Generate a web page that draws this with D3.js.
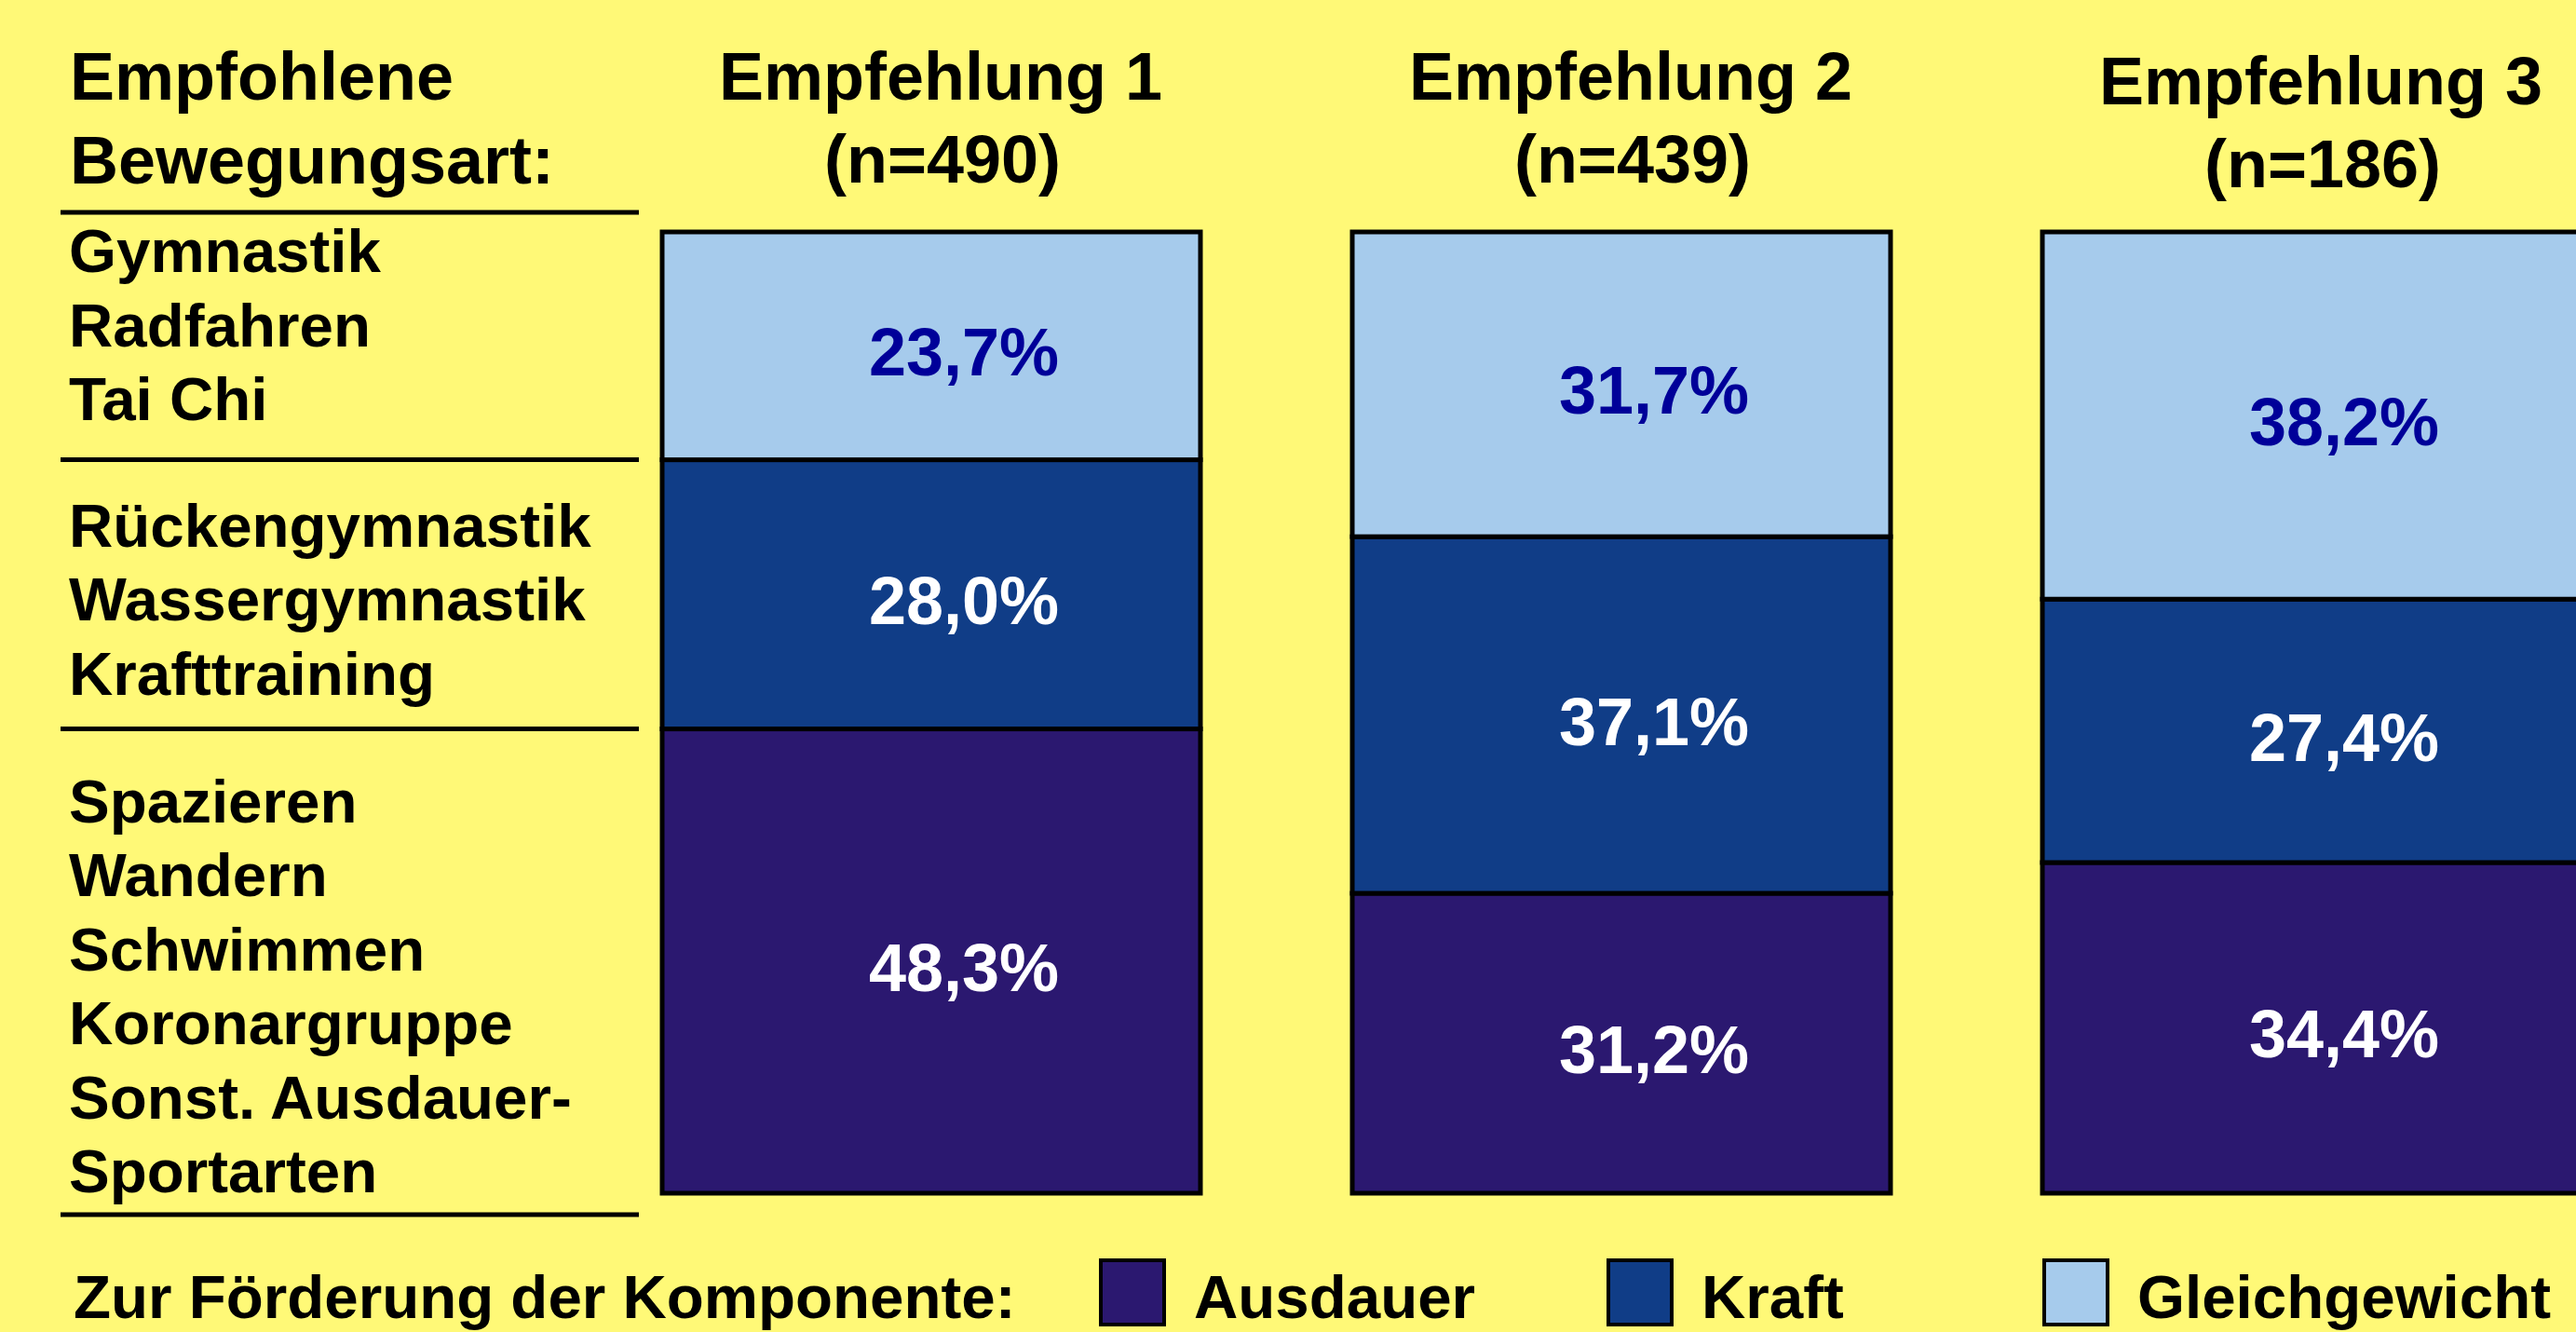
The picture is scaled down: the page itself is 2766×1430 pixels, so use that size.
<!DOCTYPE html>
<html lang="de">
<head>
<meta charset="utf-8">
<title>Empfohlene Bewegungsart</title>
<script src="https://d3js.org/d3.v7.min.js"></script>
<style>
  html, body { margin: 0; padding: 0; background: #fff977; }
  svg { display: block; }
  text { font-family: "Liberation Sans", Arial, Helvetica, sans-serif; font-weight: bold; }
</style>
</head>
<body>
<script>
// --- data ---
var groups = ["Empfehlung 1", "Empfehlung 2", "Empfehlung 3"];
var sampleSizes = [490, 439, 186];
var components = ["Ausdauer", "Kraft", "Gleichgewicht"];
var ausdauer = [48.3, 31.2, 34.4];
var kraft = [28.0, 37.1, 27.4];
var gleichgewicht = [23.7, 31.7, 38.2];

// activities listed on the left, top to bottom (Gleichgewicht, Kraft, Ausdauer)
var activities = [
  ["Gymnastik", "Radfahren", "Tai Chi"],
  ["Rückengymnastik", "Wassergymnastik", "Krafttraining"],
  ["Spazieren", "Wandern", "Schwimmen", "Koronargruppe", "Sonst. Ausdauer-", "Sportarten"]
];
var leftTitle = ["Empfohlene", "Bewegungsart:"];
var legendTitle = "Zur Förderung der Komponente:";

// --- layout ---
var w = 2766, h = 1430;
var colors = { Ausdauer: "#2b1870", Kraft: "#103d87", Gleichgewicht: "#a6cbec" };
var labelColors = { Ausdauer: "#ffffff", Kraft: "#ffffff", Gleichgewicht: "#000099" };
var bigFont = 72, smallFont = 65.5, lineH = 79.5;
var groupPad = [64, 93, 100];       // first baseline below each rule
var legendX = [1180, 1725, 2193];   // swatch left edges

var svg = d3.select("body").append("svg")
  .attr("width", w).attr("height", h);

svg.append("rect").attr("width", w).attr("height", h).attr("fill", "#fff977");

var xScale = d3.scaleBand().domain(groups).range([711, 2771]).paddingInner(0.22).paddingOuter(0);
var yScale = d3.scaleLinear().domain([0, 100]).range([1281, 249]);

var rows = groups.map(function(g, i) {
  return { group: g, n: sampleSizes[i], Ausdauer: ausdauer[i], Kraft: kraft[i], Gleichgewicht: gleichgewicht[i] };
});
var series = d3.stack().keys(components)(rows);

var fmt = d3.formatLocale({ decimal: ",", thousands: ".", grouping: [3], currency: ["", "€"] }).format(".1f");

// stacked bars
var layer = svg.selectAll("g.layer").data(series).enter().append("g").attr("class", "layer");

layer.selectAll("rect")
  .data(function(s) { return s.map(function(d) { return { key: s.key, d: d }; }); })
  .enter().append("rect")
  .attr("x", function(p) { return xScale(p.d.data.group); })
  .attr("y", function(p) { return yScale(p.d[1]); })
  .attr("width", xScale.bandwidth())
  .attr("height", function(p) { return yScale(p.d[0]) - yScale(p.d[1]); })
  .attr("fill", function(p) { return colors[p.key]; })
  .attr("stroke", "#000")
  .attr("stroke-width", 5);

layer.selectAll("text")
  .data(function(s) { return s.map(function(d) { return { key: s.key, d: d }; }); })
  .enter().append("text")
  .attr("x", function(p) { return xScale(p.d.data.group) + xScale.bandwidth() / 2 + 35; })
  .attr("y", function(p) { return (yScale(p.d[0]) + yScale(p.d[1])) / 2 + bigFont * 0.36 + 6; })
  .attr("text-anchor", "middle")
  .attr("font-size", bigFont)
  .attr("fill", function(p) { return labelColors[p.key]; })
  .text(function(p) { return fmt(p.d.data[p.key]) + "%"; });

// column headings
var heads = svg.selectAll("text.head").data(rows).enter().append("text")
  .attr("class", "head")
  .attr("text-anchor", "middle")
  .attr("font-size", bigFont)
  .attr("fill", "#000");
heads.append("tspan")
  .attr("x", function(d) { return xScale(d.group) + xScale.bandwidth() / 2 + 10; })
  .attr("y", function(d, i) { return i == 2 ? 112 : 107; })
  .text(function(d) { return d.group; });
heads.append("tspan")
  .attr("x", function(d) { return xScale(d.group) + xScale.bandwidth() / 2 + 12; })
  .attr("y", function(d, i) { return i == 2 ? 201 : 196; })
  .text(function(d) { return "(n=" + d.n + ")"; });

// left column title
svg.append("text")
  .attr("font-size", bigFont).attr("fill", "#000")
  .selectAll("tspan").data(leftTitle).enter().append("tspan")
  .attr("x", 75)
  .attr("y", function(d, i) { return 107 + i * 90; })
  .text(function(d) { return d; });

// rules follow the boundaries of the first bar
var first = rows[0];
var ruleY = [
  yScale(100) - 21,
  yScale(first.Ausdauer + first.Kraft),
  yScale(first.Ausdauer),
  yScale(0) + 23
];
svg.selectAll("line.rule").data(ruleY).enter().append("line")
  .attr("class", "rule")
  .attr("x1", 65).attr("x2", 686)
  .attr("y1", function(d) { return d; }).attr("y2", function(d) { return d; })
  .attr("stroke", "#000").attr("stroke-width", 5);

// activity lists
activities.forEach(function(list, gi) {
  svg.append("text")
    .attr("font-size", smallFont).attr("fill", "#000")
    .selectAll("tspan").data(list).enter().append("tspan")
    .attr("x", 74)
    .attr("y", function(d, i) { return ruleY[gi] + groupPad[gi] + i * lineH; })
    .text(function(d) { return d; });
});

// legend
svg.append("text")
  .attr("x", 79).attr("y", 1415)
  .attr("font-size", smallFont).attr("fill", "#000")
  .text(legendTitle);

var leg = svg.selectAll("g.legend").data(components).enter().append("g")
  .attr("class", "legend")
  .attr("transform", function(d, i) { return "translate(" + legendX[i] + ",1351)"; });
leg.append("rect")
  .attr("x", 2).attr("y", 2)
  .attr("width", 68).attr("height", 69)
  .attr("fill", function(d) { return colors[d]; })
  .attr("stroke", "#000").attr("stroke-width", 4);
leg.append("text")
  .attr("x", 102).attr("y", 64)
  .attr("font-size", smallFont).attr("fill", "#000")
  .text(function(d) { return d; });
</script>
</body>
</html>
